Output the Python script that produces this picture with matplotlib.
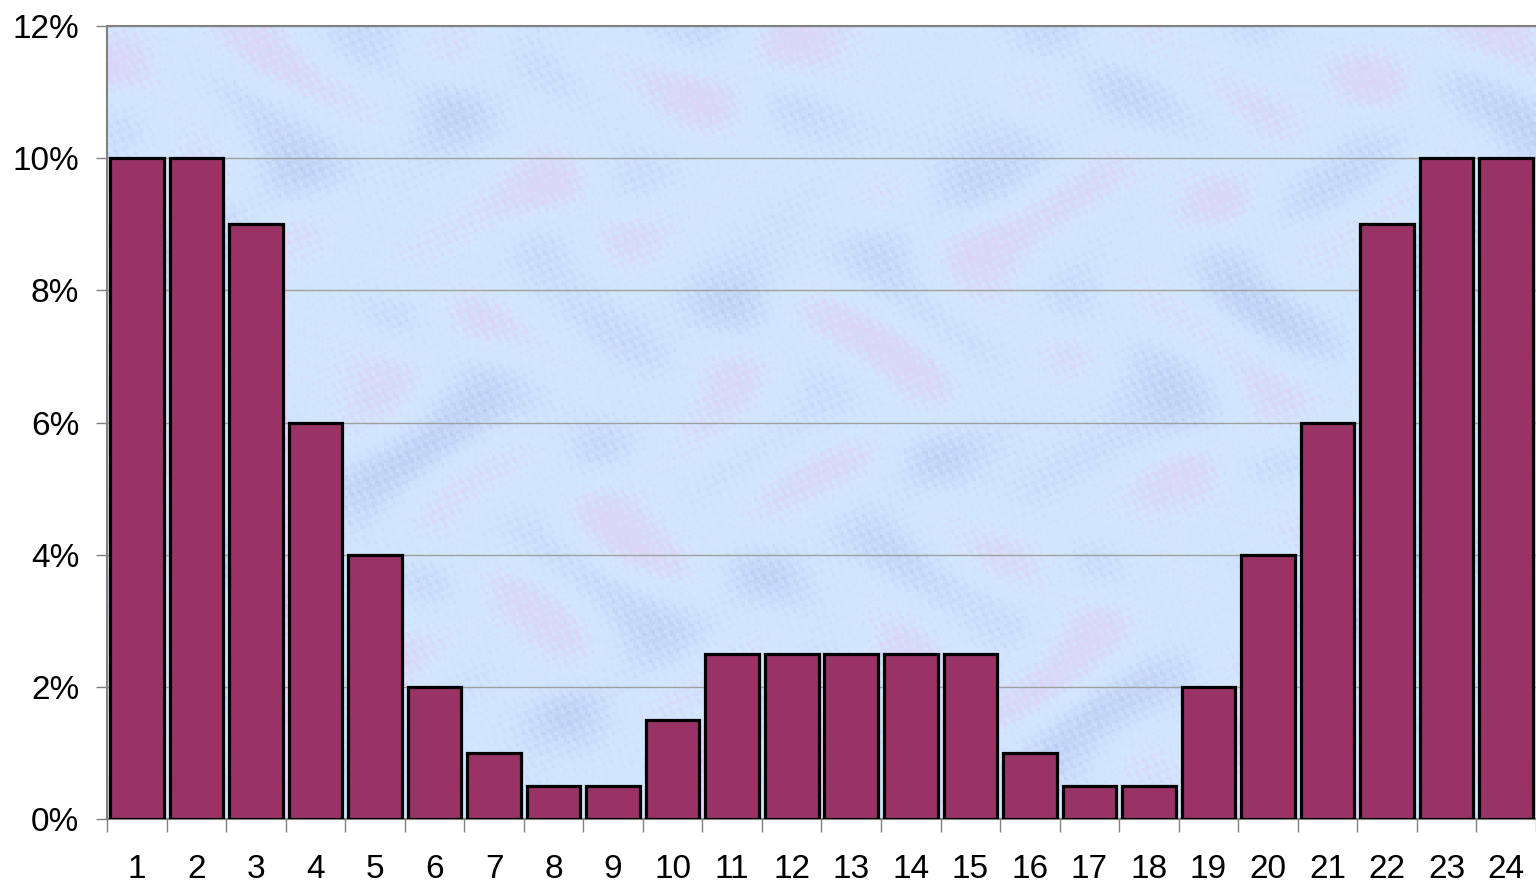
import matplotlib.pyplot as plt
import numpy as np
from matplotlib.colors import LinearSegmentedColormap
from matplotlib.ticker import FuncFormatter

plt.rcParams['font.family'] = ['Liberation Sans', 'DejaVu Sans']

hours = list(range(1, 25))
share = [10, 10, 9, 6, 4, 2, 1, 0.5, 0.5, 1.5, 2.5, 2.5, 2.5, 2.5, 2.5,
         1, 0.5, 0.5, 2, 4, 6, 9, 10, 10]

fig = plt.figure(figsize=(15.36, 8.82), dpi=100)
ax = fig.add_axes([107 / 1536, 63 / 882, 1 - 107 / 1536, (819 - 26) / 882])

# pastel "tissue paper" backdrop: soft blotches plus a fine grain
yy, xx = np.mgrid[0:265, 0:475].astype(float)
blotch = (np.sin(xx / 9.3 + np.cos(yy / 13.0) * 2.1)
          + np.sin(yy / 7.9 + np.sin(xx / 17.0) * 1.7)
          + 0.7 * np.sin(xx / 31.0 + yy / 19.0))
grain = (np.sin(xx * 1.37 + yy * 0.71) * np.sin(xx * 0.53 - yy * 1.29)
         + np.sin(xx * 2.11 - yy * 1.83) * 0.6)
tex = blotch + 0.7 * grain
tex = (tex - tex.min()) / (tex.max() - tex.min())
paper = LinearSegmentedColormap.from_list(
    'paper', ['#b8caf0', '#c6d8f9', '#d0e4fd', '#d2e8fe', '#d8d8f8', '#e2d4f4'])
ax.imshow(tex, cmap=paper, extent=(0.5, 24.5, 0, 12), aspect='auto',
          interpolation='nearest', zorder=0)

ax.bar(hours, share, width=0.9, color='#993366', edgecolor='black',
       linewidth=2.3, zorder=3)

ax.set_xlim(0.5, 24.5)
ax.set_ylim(0, 12)

ax.set_yticks(range(0, 13, 2))
ax.yaxis.set_major_formatter(FuncFormatter(lambda v, p: f'{v:.0f}%'))
ax.yaxis.grid(True, color='#a0a0a0', linewidth=1.0, zorder=1)
ax.set_axisbelow(True)

# tick marks between categories, labels centred under bars
ax.set_xticks(np.arange(0.5, 25, 1))
ax.set_xticklabels([])
ax.set_xticks(hours, minor=True)
ax.set_xticklabels([str(h) for h in hours], minor=True)
ax.tick_params(axis='x', which='major', length=9, width=1, color='#808080', direction='out')
ax.tick_params(axis='x', which='minor', length=0, pad=25, labelsize=24)
ax.tick_params(axis='y', length=8, width=1, color='#808080', pad=12, labelsize=24)

for side in ['left', 'bottom', 'top']:
    ax.spines[side].set_color('#808080')
    ax.spines[side].set_linewidth(1.5)
ax.spines['right'].set_visible(False)

fig.savefig('out.png', dpi=100)
